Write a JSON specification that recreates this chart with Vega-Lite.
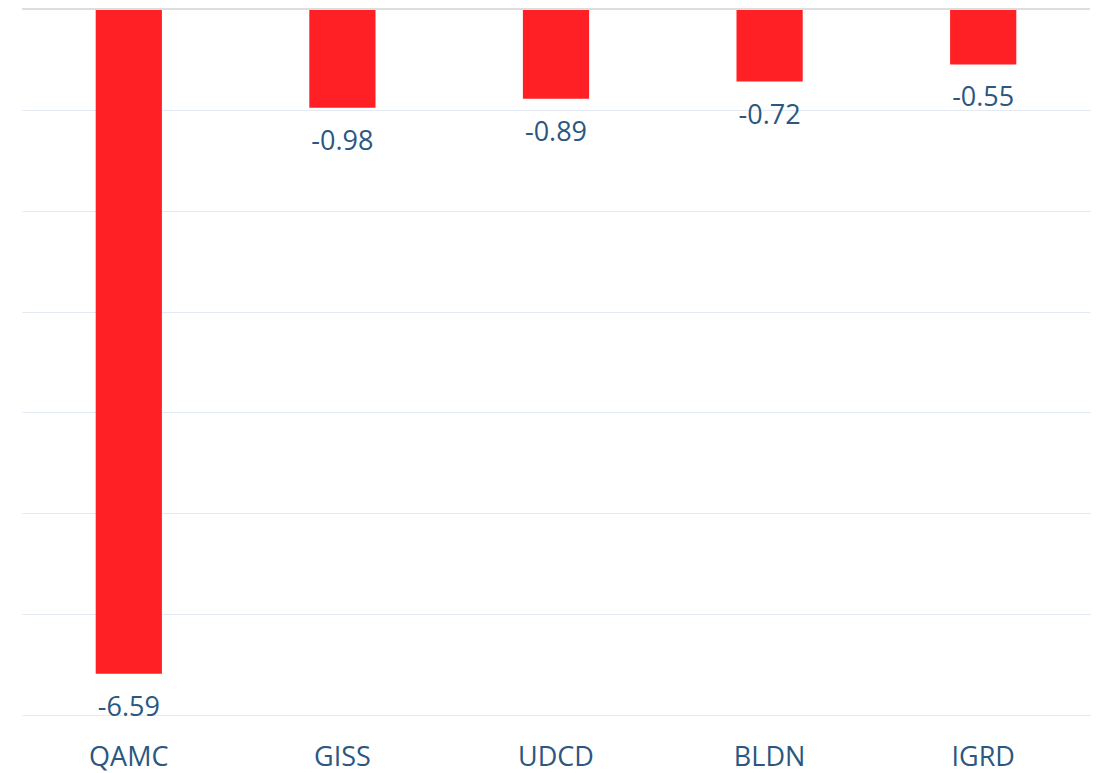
{
  "$schema": "https://vega.github.io/schema/vega-lite/v6.json",
  "width": 1068,
  "height": 706,
  "autosize": {"type": "none"},
  "padding": {"left": 22, "top": 9, "right": 12, "bottom": 58},
  "background": "white",
  "config": {"view": {"stroke": null}, "font": "Open Sans",
    "locale": {"number": {"decimal": ".", "thousands": ",", "grouping": [3], "currency": ["$", ""], "minus": "-"}}},
  "data": {"values": [
    {"ticker": "QAMC", "value": -6.59},
    {"ticker": "GISS", "value": -0.98},
    {"ticker": "UDCD", "value": -0.89},
    {"ticker": "BLDN", "value": -0.72},
    {"ticker": "IGRD", "value": -0.55}
  ]},
  "encoding": {
    "x": {"field": "ticker", "type": "nominal", "sort": null,
      "scale": {"paddingInner": 0, "paddingOuter": 0},
      "axis": {"title": null, "domain": false, "ticks": false, "tickSize": 0, "labelAngle": 0,
        "labelFont": "Open Sans", "labelFontSize": 27, "labelColor": "#2b5780",
        "labelBaseline": "alphabetic", "labelPadding": 50, "grid": false}},
    "y": {"field": "value", "type": "quantitative",
      "scale": {"domain": [-7, 0], "nice": false, "zero": false},
      "axis": {"title": null, "domain": false, "ticks": false, "labels": false,
        "values": [-7, -6, -5, -4, -3, -2, -1], "grid": true, "gridColor": "#e3eaf3", "gridWidth": 1.2}}
  },
  "layer": [
    {"mark": {"type": "bar", "color": "#ff2026", "width": {"band": 0.31}}},
    {"mark": {"type": "text", "baseline": "alphabetic", "dy": 42, "fontSize": 27, "font": "Open Sans", "color": "#2b5780"},
     "encoding": {"text": {"field": "value", "type": "quantitative", "format": ".2f"}}},
    {"mark": {"type": "rule", "color": "#dcdcdc", "strokeWidth": 1.5},
     "encoding": {"y": {"datum": 0}, "x": null}}
  ]
}
